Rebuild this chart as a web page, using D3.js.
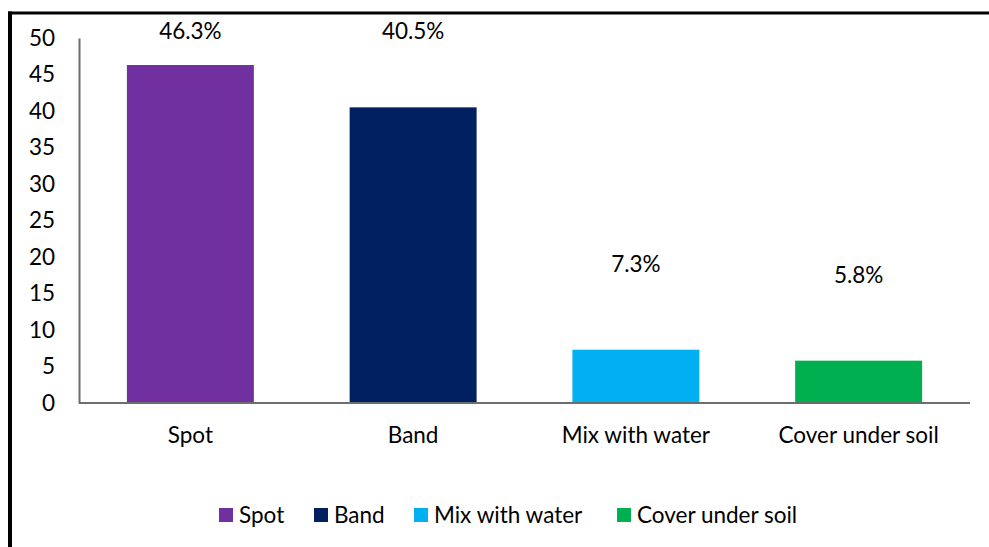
<!DOCTYPE html>
<html>
<head>
<meta charset="utf-8">
<script src="https://cdn.jsdelivr.net/npm/d3@7/dist/d3.min.js"></script>
<style>
  html, body { margin: 0; padding: 0; background: #fff; }
  svg { display: block; font-family: Lato, "Open Sans", sans-serif; }
</style>
</head>
<body>
<svg id="chart" width="989" height="547"></svg>
<script>
// Application methods and their share of respondents (%)
const categories = ["Spot", "Band", "Mix with water", "Cover under soil"];
const shares = [46.3, 40.5, 7.3, 5.8];
const colors = ["#7030A0", "#002060", "#00B0F0", "#00B050"];
const yTicks = [0, 5, 10, 15, 20, 25, 30, 35, 40, 45, 50];

const svg = d3.select("#chart");
const W = 989, H = 547;
const FONT = 22.5;
const plot = { left: 79, right: 970, top: 38, bottom: 403 };

// Frame lines along the top and left edges
svg.append("line").attr("x1", 8).attr("x2", W).attr("y1", 13).attr("y2", 13)
  .attr("stroke", "#000").attr("stroke-width", 3);
svg.append("line").attr("x1", 10).attr("x2", 10).attr("y1", 11.5).attr("y2", H)
  .attr("stroke", "#000").attr("stroke-width", 4);

const x = d3.scaleBand().domain(categories)
  .range([plot.left, plot.right]).paddingInner(0.43).paddingOuter(0.215);
const y = d3.scaleLinear().domain([0, 50]).range([plot.bottom, plot.top]);

// Bars
svg.append("g").selectAll("rect").data(categories).join("rect")
  .attr("x", d => x(d))
  .attr("width", x.bandwidth())
  .attr("y", (d, i) => y(shares[i]))
  .attr("height", (d, i) => y(0) - y(shares[i]))
  .attr("fill", (d, i) => colors[i]);

// Y axis (labels only, no tick marks)
const yAxis = svg.append("g").attr("transform", `translate(${plot.left},0)`)
  .call(d3.axisLeft(y).tickValues(yTicks).tickSize(0).tickPadding(24).tickFormat(d3.format("d")));
yAxis.select(".domain").attr("stroke", "#6d6d6d").attr("stroke-width", 2);
yAxis.selectAll("text").attr("font-size", FONT).attr("fill", "#000")
  .attr("font-family", "Lato, sans-serif");

// X axis
const xAxis = svg.append("g").attr("transform", `translate(0,${plot.bottom})`)
  .call(d3.axisBottom(x).tickSize(0).tickPadding(24));
xAxis.select(".domain").attr("stroke", "#6d6d6d").attr("stroke-width", 2)
  .attr("d", `M${plot.left},0H${plot.right}`);
xAxis.selectAll("text").attr("font-size", FONT).attr("fill", "#000")
  .attr("font-family", "Lato, sans-serif");

// Percentage labels floating above the bars
svg.append("g").selectAll("text").data(categories).join("text")
  .attr("x", d => x(d) + x.bandwidth() / 2)
  .attr("y", (d, i) => Math.max(y(shares[i]) - 86, 31))
  .attr("dy", "0.35em")
  .attr("text-anchor", "middle")
  .attr("font-size", FONT)
  .attr("fill", "#000")
  .text((d, i) => d3.format(".1f")(shares[i]) + "%");

// Legend
const legend = svg.append("g").attr("transform", "translate(0,515)");
const legendX = [219, 314, 414, 617];
const items = legend.selectAll("g").data(categories).join("g")
  .attr("transform", (d, i) => `translate(${legendX[i]},0)`);
items.append("rect").attr("x", 0).attr("y", -7).attr("width", 14).attr("height", 14)
  .attr("fill", (d, i) => colors[i]);
items.append("text").attr("x", 20).attr("dy", "0.35em")
  .attr("font-size", FONT).attr("fill", "#000").text(d => d);
</script>
</body>
</html>
